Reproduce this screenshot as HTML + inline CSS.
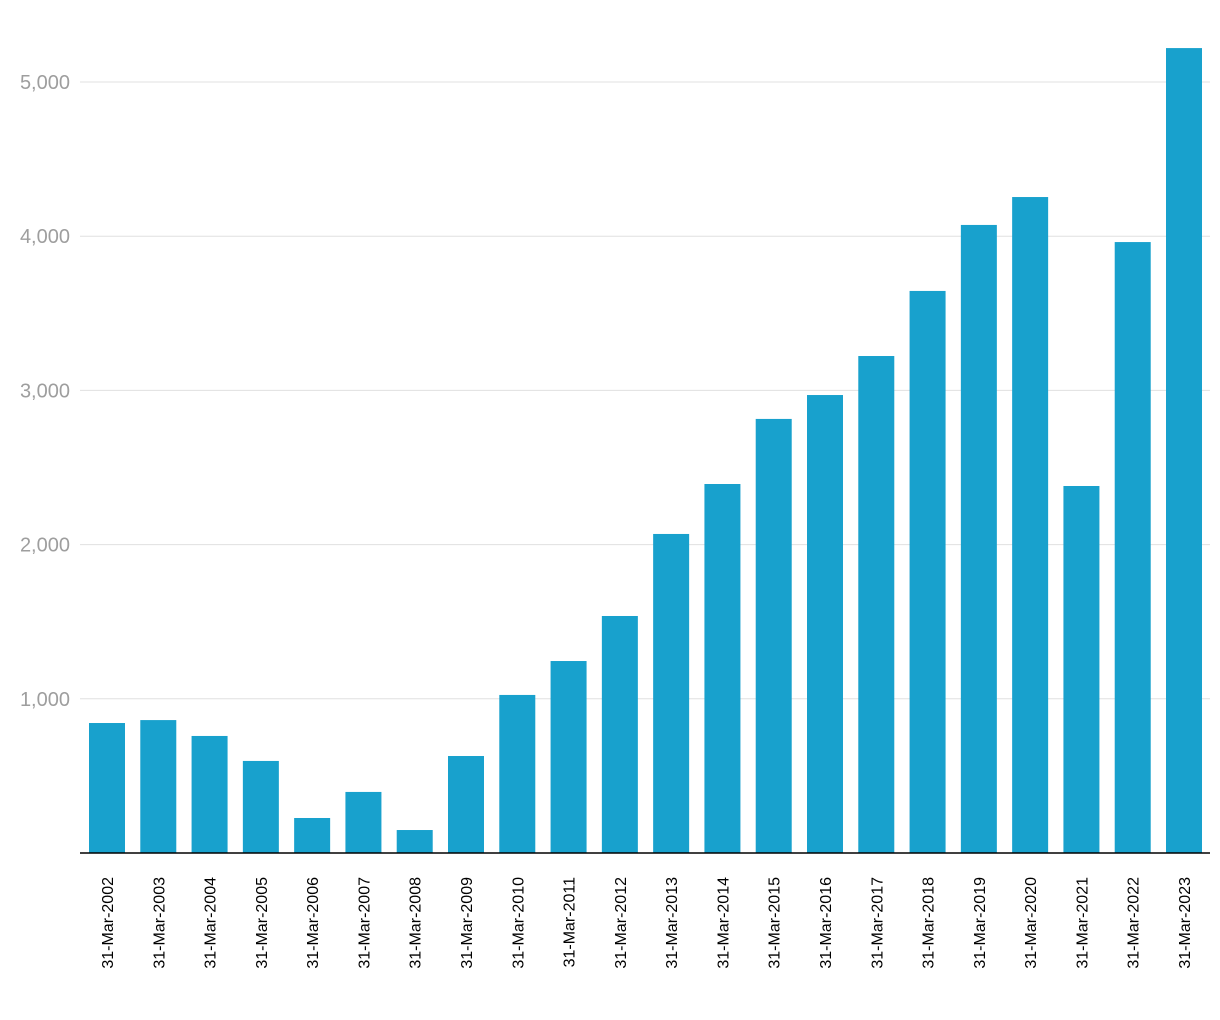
<!DOCTYPE html>
<html><head><meta charset="utf-8"><style>
body{margin:0;background:#fff;}
svg{display:block;font-family:"Liberation Sans",Arial,sans-serif;}
</style></head><body>
<svg id="chart" width="1220" height="1020"></svg>
<script>
const categories=["31-Mar-2002","31-Mar-2003","31-Mar-2004","31-Mar-2005","31-Mar-2006","31-Mar-2007","31-Mar-2008","31-Mar-2009","31-Mar-2010","31-Mar-2011","31-Mar-2012","31-Mar-2013","31-Mar-2014","31-Mar-2015","31-Mar-2016","31-Mar-2017","31-Mar-2018","31-Mar-2019","31-Mar-2020","31-Mar-2021","31-Mar-2022","31-Mar-2023"];
const values=[843,862,759,597,227,396,149,629,1025,1245,1537,2069,2393,2815,2970,3223,3645,4073,4254,2380,3962,5220];
const yTicks=[1000,2000,3000,4000,5000];
const yTickLabels=["1,000","2,000","3,000","4,000","5,000"];

const NS="http://www.w3.org/2000/svg";
const svg=document.getElementById('chart');
const y0=853, pxPer=0.1542;
const yScale=v=>y0-v*pxPer;
const x0=107, step=(1184-107)/21, bw=36;
const xScale=i=>x0+i*step;
function mk(t,a){const e=document.createElementNS(NS,t);for(const k in a)e.setAttribute(k,a[k]);svg.appendChild(e);return e;}
yTicks.forEach((v,i)=>{
  const l=mk('line',{x1:80,x2:1210,y1:yScale(v),y2:yScale(v),stroke:'#e0e0e0','stroke-width':1});
  
  
  const t=mk('text',{x:70,y:yScale(v)+7,'text-anchor':'end','font-size':20,fill:'#9e9e9e'});
  t.textContent=yTickLabels[i];
  
  
});
values.forEach((v,i)=>{
  const r=mk('rect',{x:xScale(i)-bw/2,y:yScale(v),width:bw,height:y0-yScale(v),fill:'#18a1cd'});
  
  
  const cx=xScale(i)+6;
  const t=mk('text',{x:0,y:0,'text-anchor':'end','font-size':16,fill:'#000',transform:`translate(${cx},877) rotate(-90)`});
  t.textContent=categories[i];
  
  
});
const base=mk('line',{x1:80,x2:1210,y1:y0,y2:y0,stroke:'#000','stroke-width':1.5});


</script>
</body></html>
